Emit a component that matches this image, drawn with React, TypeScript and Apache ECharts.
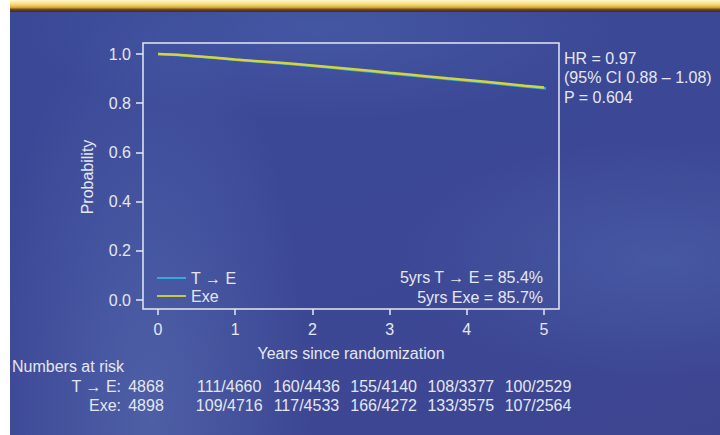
import React, { useEffect, useRef } from "react";
import * as echarts from "echarts";

// ---- data ----
const teYears = [0, 0.25, 0.5, 0.75, 1, 1.25, 1.5, 1.75, 2, 2.25, 2.5, 2.75, 3, 3.25, 3.5, 3.75, 4, 4.25, 4.5, 4.75, 5, 5.19];
const teSurv = [1.0, 0.996, 0.99, 0.984, 0.977, 0.971, 0.964, 0.958, 0.951, 0.944, 0.936, 0.929, 0.921, 0.914, 0.906, 0.898, 0.891, 0.884, 0.876, 0.868, 0.861, 0.856];
const exeYears = [0, 0.25, 0.5, 0.75, 1, 1.25, 1.5, 1.75, 2, 2.25, 2.5, 2.75, 3, 3.25, 3.5, 3.75, 4, 4.25, 4.5, 4.75, 5];
const exeSurv = [1.0, 0.997, 0.991, 0.985, 0.978, 0.972, 0.966, 0.96, 0.953, 0.946, 0.939, 0.932, 0.924, 0.917, 0.909, 0.901, 0.894, 0.887, 0.879, 0.871, 0.864];
const seriesNames = ["T \u2192 E", "Exe"];
const riskYears = [0, 1, 2, 3, 4, 5];
const riskTE = ["4868", "111/4660", "160/4436", "155/4140", "108/3377", "100/2529"];
const riskExe = ["4898", "109/4716", "117/4533", "166/4272", "133/3575", "107/2564"];
const riskLabels = ["T \u2192 E:", "Exe:"];
const statLines = ["HR = 0.97", "(95% CI 0.88 \u2013 1.08)", "P = 0.604"];
const fiveYr = ["5yrs T \u2192 E = 85.4%", "5yrs Exe = 85.7%"];

const TXT = "#e4e7f2";
const FONT = '"Liberation Sans", Arial, sans-serif';
const FS = 16;

export default function App() {
  const ref = useRef<HTMLDivElement>(null);
  useEffect(() => {
    if (!ref.current) return;
    const chart = echarts.init(ref.current, undefined, { renderer: "svg" });
    const option: any = {
      animation: false,
      backgroundColor: "transparent",
      textStyle: { fontFamily: FONT },
      grid: { left: 158, top: 54, right: 176, bottom: 135 },
      xAxis: {
        type: "value",
        min: 0,
        max: 5,
        interval: 1,
        offset: 9,
        name: "Years since randomization",
        nameLocation: "middle",
        nameGap: 36,
        nameTextStyle: { color: TXT, fontSize: FS, fontFamily: FONT },
        axisLine: { show: false, onZero: false },
        splitLine: { show: false },
        axisTick: { show: true, inside: false, length: 6, lineStyle: { color: TXT, width: 1.5 } },
        axisLabel: { color: TXT, fontSize: FS, fontFamily: FONT, margin: 12 },
      },
      yAxis: {
        type: "value",
        min: 0,
        max: 1,
        interval: 0.2,
        offset: 15,
        name: "Probability",
        nameLocation: "middle",
        nameGap: 48,
        nameTextStyle: { color: TXT, fontSize: FS, fontFamily: FONT },
        axisLine: { show: false, onZero: false },
        splitLine: { show: false },
        axisTick: { show: true, inside: false, length: 7, lineStyle: { color: TXT, width: 1.5 } },
        axisLabel: { color: TXT, fontSize: FS, fontFamily: FONT, margin: 12, formatter: (v: number) => v.toFixed(1) },
      },
      legend: {
        data: seriesNames,
        orient: "vertical",
        left: 157,
        top: 270,
        padding: 0,
        itemGap: 2,
        itemWidth: 29,
        itemHeight: 2,
        icon: "rect",
        textStyle: { color: TXT, fontSize: FS, fontFamily: FONT },
      },
      series: [
        {
          name: seriesNames[0],
          type: "line",
          symbol: "none",
          clip: false,
          lineStyle: { color: "#36a8dc", width: 2.5 },
          itemStyle: { color: "#36a8dc" },
          data: teYears.map((x, i) => [x, teSurv[i]]),
        },
        {
          name: seriesNames[1],
          type: "line",
          symbol: "none",
          clip: false,
          lineStyle: { color: "#d0d63c", width: 2.5 },
          itemStyle: { color: "#c4cc3c" },
          data: exeYears.map((x, i) => [x, exeSurv[i]]),
        },
      ],
    };
    chart.setOption(option);

    const px = (v: number) => chart.convertToPixel({ xAxisIndex: 0 }, v) as number;
    const font = `${FS}px ${FONT}`;
    const g: any[] = [];
    g.push({ type: "rect", shape: { x: 143, y: 43, width: 416, height: 266 }, style: { fill: "none", stroke: TXT, lineWidth: 1.5 }, z: 1 });
    statLines.forEach((t, i) => {
      g.push({ type: "text", x: 564, y: 58 + i * 19.5, style: { text: t, fill: TXT, font, textAlign: "left", textVerticalAlign: "middle" } });
    });
    fiveYr.forEach((t, i) => {
      g.push({ type: "text", x: 543, y: 277 + i * 20, style: { text: t, fill: TXT, font, textAlign: "right", textVerticalAlign: "middle" } });
    });
    g.push({ type: "text", x: 12, y: 366, style: { text: "Numbers at risk", fill: TXT, font, textAlign: "left", textVerticalAlign: "middle" } });
    [riskTE, riskExe].forEach((row, r) => {
      const y = 386 + r * 19;
      g.push({ type: "text", x: 121, y, style: { text: riskLabels[r], fill: TXT, font, textAlign: "right", textVerticalAlign: "middle" } });
      row.forEach((t, i) => {
        const off = i === 0 ? -12 : -6;
        g.push({ type: "text", x: px(riskYears[i]) + off, y, style: { text: t, fill: TXT, font, textAlign: "center", textVerticalAlign: "middle" } });
      });
    });
    chart.setOption({ graphic: g });

    return () => chart.dispose();
  }, []);

  return (
    <div
      style={{
        position: "fixed",
        left: 0,
        top: 0,
        width: 720,
        height: 435,
        overflow: "hidden",
        background:
          "radial-gradient(ellipse 160px 420px at 150px 420px, rgba(110,140,200,0.35), rgba(110,140,200,0) 100%), radial-gradient(ellipse 260px 120px at 660px 260px, rgba(90,120,190,0.35), rgba(90,120,190,0) 100%), radial-gradient(ellipse 300px 90px at 320px 30px, rgba(90,120,190,0.3), rgba(90,120,190,0) 100%), linear-gradient(160deg, #3a4898 0%, #3c4896 50%, #3d4590 100%)",
      }}
    >
      <div style={{ position: "absolute", left: 0, top: 0, width: 720, height: 12, background: "linear-gradient(180deg, #fff8d0 0%, #f6dc78 35%, #e0b040 60%, #6a4618 80%, #3a2a30 100%)" }} />
      <div style={{ position: "absolute", left: 0, top: 0, width: 10, height: 435, background: "#ffffff" }} />
      <div ref={ref} style={{ position: "absolute", left: 0, top: 0, width: 720, height: 435 }} />
    </div>
  );
}
